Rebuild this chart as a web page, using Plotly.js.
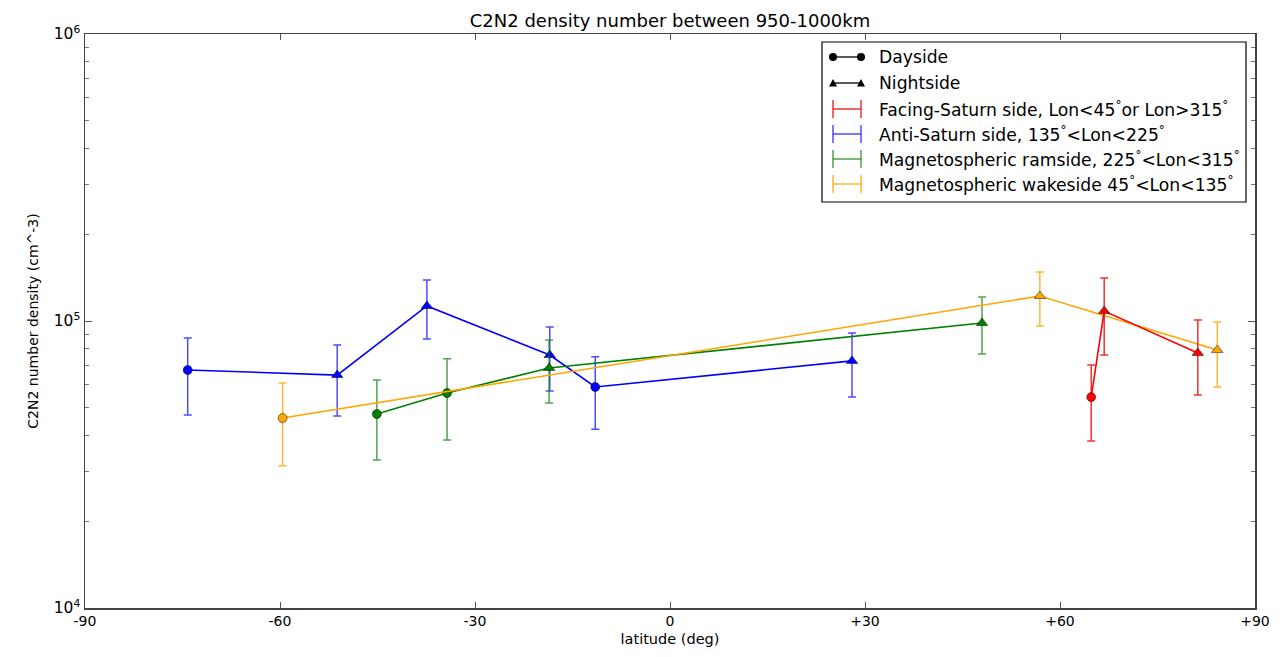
<!DOCTYPE html>
<html>
<head>
<meta charset="utf-8">
<script src="https://cdn.plot.ly/plotly-3.0.1.min.js"></script>
<style>html,body{margin:0;padding:0;background:#fff;}#chart{width:1286px;height:657px;}</style>
</head>
<body>
<div id="chart"></div>
<script>
// ---- data ----
const seriesNames = [
  "Facing-Saturn side, Lon<45<sup>°</sup>or Lon>315<sup>°</sup>",
  "Anti-Saturn side, 135<sup>°</sup><Lon<225<sup>°</sup>",
  "Magnetospheric ramside, 225<sup>°</sup><Lon<315<sup>°</sup>",
  "Magnetospheric wakeside 45<sup>°</sup><Lon<135<sup>°</sup>"
];
const seriesColors = ["#ff0000", "#0000ff", "#008000", "#ffa500"];
const barColors = ["rgba(230,0,0,0.8)", "rgba(0,0,255,0.7)", "rgba(0,128,0,0.7)", "rgba(255,165,0,0.8)"];

// Facing-Saturn
const facingLat   = [64.8, 66.8, 81.2];
const facingVal   = [54300, 108300, 77400];
const facingHigh  = [70300, 141200, 100800];
const facingLow   = [38200, 76100, 55200];
const facingSide  = ["day", "night", "night"];

// Anti-Saturn
const antiLat   = [-74.2, -51.2, -37.4, -18.5, -11.5, 28.0];
const antiVal   = [67500, 64800, 112800, 76100, 58900, 72600];
const antiHigh  = [87300, 82500, 139000, 95300, 75000, 90800];
const antiLow   = [47000, 46700, 86500, 57000, 42000, 54300];
const antiSide  = ["day", "night", "night", "night", "day", "night"];

// Ramside
const ramLat   = [-45.1, -34.3, -18.6, 48.0];
const ramVal   = [47400, 56100, 68600, 98400];
const ramHigh  = [62300, 73800, 85900, 121200];
const ramLow   = [32800, 38500, 51800, 76700];
const ramSide  = ["day", "day", "night", "night"];

// Wakeside
const wakeLat   = [-59.6, 56.9, 84.2];
const wakeVal   = [45900, 122200, 79200];
const wakeHigh  = [60800, 148200, 99200];
const wakeLow   = [31300, 96100, 58900];
const wakeSide  = ["day", "night", "night"];

const xTickVals = [-90, -60, -30, 0, 30, 60, 90];
const xTickText = ["-90", "-60", "-30", "0", "+30", "+60", "+90"];
const yTickVals = [1e4, 1e5, 1e6];
const yTickText = ["10<sup>4</sup>", "10<sup>5</sup>", "10<sup>6</sup>"];

const legendSides = ["Dayside", "Nightside"];

// ---- build ----
const seriesData = [
  [facingLat, facingVal, facingHigh, facingLow, facingSide],
  [antiLat, antiVal, antiHigh, antiLow, antiSide],
  [ramLat, ramVal, ramHigh, ramLow, ramSide],
  [wakeLat, wakeVal, wakeHigh, wakeLow, wakeSide]
];
const drawOrder = [1, 2, 3, 0];
const traces = [];
drawOrder.forEach(i => {
  const [lat, val, hi, lo, side] = seriesData[i];
  traces.push({
    x: lat, y: val, type: "scatter", mode: "lines",
    name: seriesNames[i], showlegend: false, hoverinfo: "skip",
    line: {color: seriesColors[i], width: 1.6},
    error_y: {
      type: "data", symmetric: false,
      array: hi.map((h, k) => h - val[k]),
      arrayminus: lo.map((l, k) => val[k] - l),
      color: barColors[i], thickness: 1.5, width: 4
    }
  });
  traces.push({
    x: lat, y: val, type: "scatter", mode: "markers",
    name: seriesNames[i], showlegend: false, hoverinfo: "x+y",
    marker: {
      color: seriesColors[i], opacity: 1, size: side.map(s => s === "day" ? 9 : 10),
      symbol: side.map(s => s === "day" ? "circle" : "triangle-up"),
      line: {color: "rgba(0,0,0,0.6)", width: 0.8}
    }
  });
});

// ---- custom legend (pixel layout helpers) ----
const L = 85, R = 1255, T = 34, B = 608;
const px = x => (x - L) / (R - L);
const py = y => (B - y) / (B - T);
const shapes = [];
const annotations = [];
shapes.push({type: "rect", xref: "paper", yref: "paper", x0: px(822), x1: px(1246), y0: py(202), y1: py(42),
  line: {color: "#000", width: 1.2}, fillcolor: "#fff", layer: "above"});
const rowY = [57, 83, 109, 134, 159, 184];
const symX0 = 833, symX1 = 861, textX = 877;
for (let r = 0; r < 2; r++) {
  const y = rowY[r];
  shapes.push({type: "line", xref: "paper", yref: "paper", x0: px(symX0), x1: px(symX1), y0: py(y), y1: py(y),
    line: {color: "#000", width: 1.3}, layer: "above"});
  [symX0, symX1].forEach(cx => {
    if (r === 0) {
      shapes.push({type: "circle", xref: "paper", yref: "paper", xsizemode: "pixel", ysizemode: "pixel",
        xanchor: px(cx), yanchor: py(y), x0: -4, x1: 4, y0: -4, y1: 4,
        fillcolor: "#000", line: {color: "#000", width: 0}, layer: "above"});
    } else {
      shapes.push({type: "path", xref: "paper", yref: "paper", xsizemode: "pixel", ysizemode: "pixel",
        xanchor: px(cx), yanchor: py(y), path: "M-4,-3.5 L4,-3.5 L0,4 Z",
        fillcolor: "#000", line: {color: "#000", width: 0}, layer: "above"});
    }
  });
  annotations.push({xref: "paper", yref: "paper", x: px(textX), y: py(y), xanchor: "left", yanchor: "middle",
    text: legendSides[r], showarrow: false, font: {family: "DejaVu Sans", size: 17.2, color: "#000"}});
}
for (let i = 0; i < 4; i++) {
  const y = rowY[i + 2];
  const c = barColors[i];
  shapes.push({type: "line", xref: "paper", yref: "paper", x0: px(symX0), x1: px(symX1), y0: py(y), y1: py(y), line: {color: c, width: 1.5}, layer: "above"});
  [symX0, symX1].forEach(cx => {
    shapes.push({type: "line", xref: "paper", yref: "paper", x0: px(cx), x1: px(cx), y0: py(y - 9), y1: py(y + 9), line: {color: c, width: 1.5}, layer: "above"});
  });
  annotations.push({xref: "paper", yref: "paper", x: px(textX), y: py(y), xanchor: "left", yanchor: "middle",
    text: seriesNames[i], showarrow: false, font: {family: "DejaVu Sans", size: 17.2, color: "#000"}});
}

const layout = {
  width: 1286, height: 657,
  margin: {l: L, r: 1286 - R, t: T, b: 657 - B},
  paper_bgcolor: "#fff", plot_bgcolor: "#fff",
  font: {family: "DejaVu Sans", color: "#000", size: 14},
  showlegend: false,
  title: {text: "C2N2 density number between 950-1000km", font: {size: 18, family: "DejaVu Sans"}, x: 0.521, xanchor: "center", y: 0.968, yanchor: "middle"},
  xaxis: {
    range: [-90, 90], tickmode: "array", tickvals: xTickVals, ticktext: xTickText,
    ticks: "inside", ticklen: 6, tickwidth: 1, tickcolor: "#555",
    showline: true, linecolor: "#444", linewidth: 1.5, mirror: "ticks",
    showgrid: false, zeroline: false, tickfont: {size: 14},
    title: {text: "latitude (deg)", font: {size: 14.5}, standoff: 5}
  },
  yaxis: {
    type: "log", range: [4, 6], tickmode: "array", tickvals: yTickVals, ticktext: yTickText,
    ticks: "inside", ticklen: 7, tickwidth: 1, tickcolor: "#555",
    showline: true, linecolor: "#444", linewidth: 1.5, mirror: "ticks",
    showgrid: false, zeroline: false, tickfont: {size: 15.5},
    minor: {ticks: "inside", ticklen: 4, tickcolor: "#777", dtick: "D1", showgrid: false},
    title: {text: "C2N2 number density (cm^-3)", font: {size: 14}, standoff: 12}
  },
  shapes: shapes,
  annotations: annotations
};

Plotly.newPlot("chart", traces, layout, {displayModeBar: false, staticPlot: true});
</script>
</body>
</html>
